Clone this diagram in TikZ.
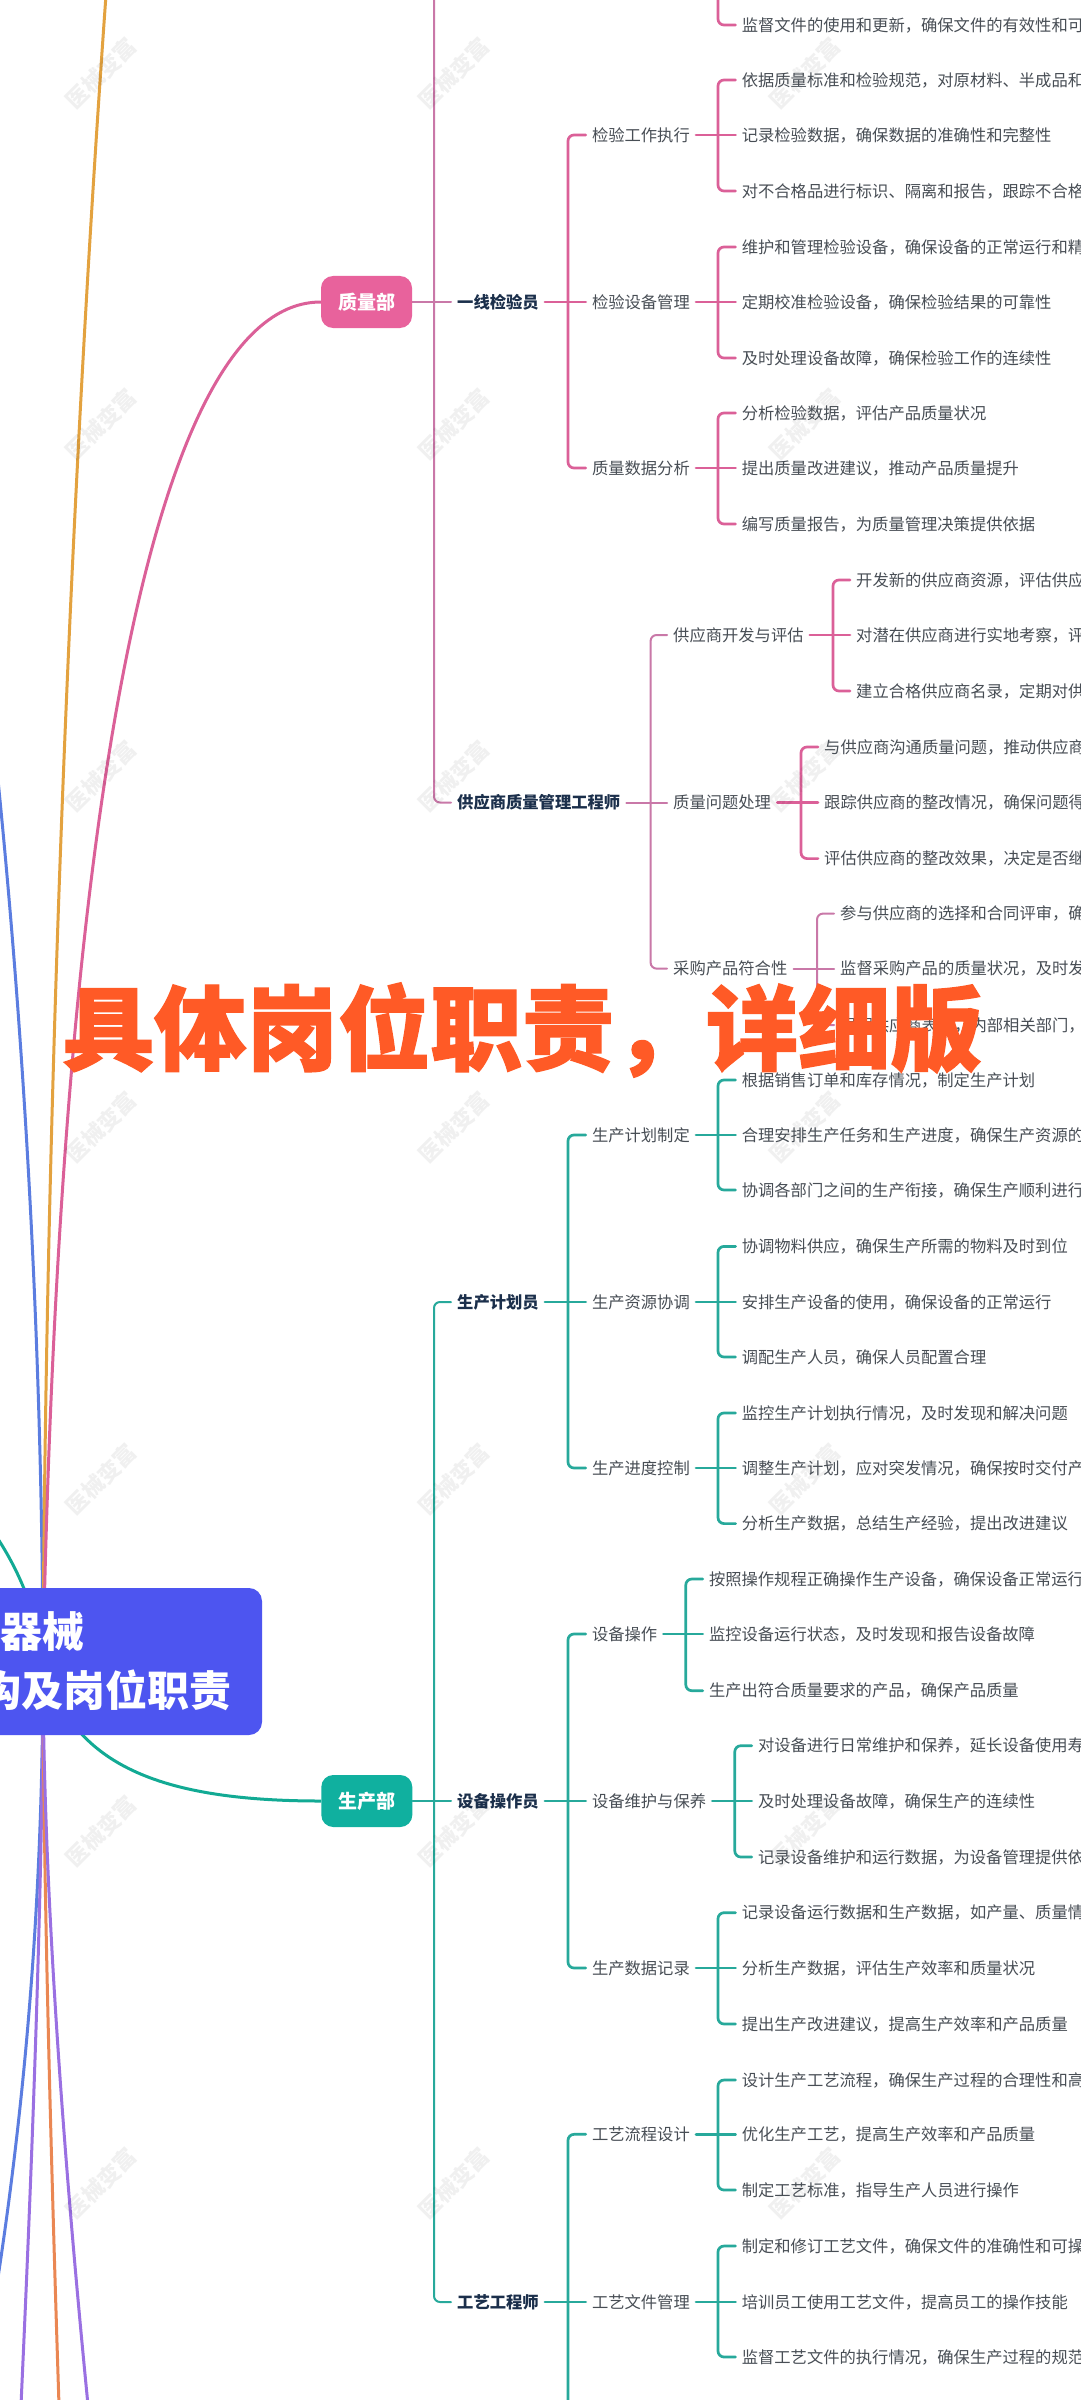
\documentclass[tikz,border=0pt]{standalone}
\usepackage{fontspec}
\usetikzlibrary{backgrounds}
\setmainfont{Noto Sans CJK SC}
\newfontfamily\ovlfont{Noto Sans CJK SC}[BoldFeatures={FakeBold=1.5}]
\definecolor{cPink}{HTML}{DB6098}
\definecolor{cPinkL}{HTML}{C978A8}
\definecolor{cTeal}{HTML}{27A99B}
\definecolor{cBoxPink}{HTML}{E8629C}
\definecolor{cBoxTeal}{HTML}{10B09F}
\definecolor{cBlueBox}{HTML}{4D55F0}
\definecolor{cOrangeA}{HTML}{E3A23F}
\definecolor{cOrangeB}{HTML}{EA8753}
\definecolor{cBlueL}{HTML}{5B7DE0}
\definecolor{cPurple}{HTML}{9A70E2}
\definecolor{cCurveTeal}{HTML}{12AA94}
\definecolor{cLeaf}{HTML}{484E55}
\definecolor{cRole}{HTML}{1B2F4B}
\definecolor{cOvl}{HTML}{FF5A26}
\newcommand\brk[6]{\draw[#1] (#2.west) -| (#6,0 |- #4.west) -- (#4.west); \draw[#1] (#5.east) -- (#3.west);}
\tikzset{
  leaf/.style={anchor=west,inner xsep=6pt,inner ysep=0pt,text height=14pt,text depth=1.6pt,text=cLeaf,font=\fontsize{16.3}{18}\selectfont},
  sub/.style={leaf},
  role/.style={leaf,text=cRole,font=\fontsize{16.3}{18}\selectfont\bfseries},
  dept/.style={rounded corners=12pt,inner sep=0pt,minimum width=91pt,minimum height=52pt,text=white,font=\fontsize{19}{22}\selectfont\bfseries},
  pinkln/.style={draw=cPink,line width=2.7pt,rounded corners=6pt,line cap=round},
  pinkmain/.style={draw=cPinkL,line width=2pt,rounded corners=6pt,line cap=round},
  tealln/.style={draw=cTeal,line width=2.7pt,rounded corners=6pt,line cap=round},
  tealmain/.style={draw=cTeal,line width=2pt,rounded corners=6pt,line cap=round},
  curve/.style={line width=3pt},
  wm/.style={rotate=45,text=black,text opacity=0.06,font=\fontsize{22}{24}\selectfont\bfseries},
}
\begin{document}
\begin{tikzpicture}[x=1pt,y=-1pt]
\useasboundingbox (0,0) rectangle (1080,2400);
% watermarks
\foreach \wy in {73,424,776,1127,1479,1831,2183}{
  \foreach \wx in {101,454,805}{
    \node[wm] at (\wx,\wy) {医械变富};
  }
}
% centre and departments
\node[fill=cBlueBox,rounded corners=13pt,minimum width=438pt,minimum height=147pt,inner sep=0pt,align=center,text=white,font=\fontsize{42}{59}\selectfont\bfseries] (cen) at (43,1661.5) {器械\\组织架构及岗位职责};
\node[dept,fill=cBoxPink] (dq) at (366.5,302) {质量部};
\node[dept,fill=cBoxTeal] (dp) at (366.8,1801) {生产部};
% roles
\node[role] (r1) at (451,302) {一线检验员};
\node[role] (r2) at (451,802.5) {供应商质量管理工程师};
\node[role] (r3) at (451,1302) {生产计划员};
\node[role] (r4) at (451,1801) {设备操作员};
\node[role] (r5) at (451,2302) {工艺工程师};
% sub items
\node[sub] (q1) at (585.8,135) {检验工作执行};
\node[sub] (q2) at (585.8,302) {检验设备管理};
\node[sub] (q3) at (585.8,468) {质量数据分析};
\node[sub] (s1) at (667,635) {供应商开发与评估};
\node[sub] (s2) at (667,802.5) {质量问题处理};
\node[sub] (s3) at (667,968.6) {采购产品符合性};
\node[sub] (p1) at (585.8,1135) {生产计划制定};
\node[sub] (p2) at (585.8,1302) {生产资源协调};
\node[sub] (p3) at (585.8,1468) {生产进度控制};
\node[sub] (e1) at (585.8,1634) {设备操作};
\node[sub] (e2) at (585.8,1801) {设备维护与保养};
\node[sub] (e3) at (585.8,1968) {生产数据记录};
\node[sub] (g1) at (585.8,2134.3) {工艺流程设计};
\node[sub] (g2) at (585.8,2302) {工艺文件管理};
% leaves
\node[leaf] (q0c) at (735.6,25) {监督文件的使用和更新，确保文件的有效性和可};
\node[leaf] (q1a) at (735.6,80) {依据质量标准和检验规范，对原材料、半成品和};
\node[leaf] (q1b) at (735.6,135) {记录检验数据，确保数据的准确性和完整性};
\node[leaf] (q1c) at (735.6,191) {对不合格品进行标识、隔离和报告，跟踪不合格};
\node[leaf] (q2a) at (735.6,247) {维护和管理检验设备，确保设备的正常运行和精};
\node[leaf] (q2b) at (735.6,302) {定期校准检验设备，确保检验结果的可靠性};
\node[leaf] (q2c) at (735.6,358) {及时处理设备故障，确保检验工作的连续性};
\node[leaf] (q3a) at (735.6,413) {分析检验数据，评估产品质量状况};
\node[leaf] (q3b) at (735.6,468) {提出质量改进建议，推动产品质量提升};
\node[leaf] (q3c) at (735.6,524) {编写质量报告，为质量管理决策提供依据};
\node[leaf] (s1a) at (850,580) {开发新的供应商资源，评估供应};
\node[leaf] (s1b) at (850,635) {对潜在供应商进行实地考察，评};
\node[leaf] (s1c) at (850,691) {建立合格供应商名录，定期对供};
\node[leaf] (s2a) at (818,747) {与供应商沟通质量问题，推动供应商};
\node[leaf] (s2b) at (818,802.5) {跟踪供应商的整改情况，确保问题得};
\node[leaf] (s2c) at (818,858.6) {评估供应商的整改效果，决定是否继};
\node[leaf] (s3a) at (834,913.6) {参与供应商的选择和合同评审，确};
\node[leaf] (s3b) at (834,968.6) {监督采购产品的质量状况，及时发};
\node[leaf] (s3c) at (834,1025) {根据供应商表现，内部相关部门，};
\node[leaf] (p1a) at (735.6,1080) {根据销售订单和库存情况，制定生产计划};
\node[leaf] (p1b) at (735.6,1135) {合理安排生产任务和生产进度，确保生产资源的};
\node[leaf] (p1c) at (735.6,1190) {协调各部门之间的生产衔接，确保生产顺利进行};
\node[leaf] (p2a) at (735.6,1246.4) {协调物料供应，确保生产所需的物料及时到位};
\node[leaf] (p2b) at (735.6,1302) {安排生产设备的使用，确保设备的正常运行};
\node[leaf] (p2c) at (735.6,1357) {调配生产人员，确保人员配置合理};
\node[leaf] (p3a) at (735.6,1413) {监控生产计划执行情况，及时发现和解决问题};
\node[leaf] (p3b) at (735.6,1468) {调整生产计划，应对突发情况，确保按时交付产};
\node[leaf] (p3c) at (735.6,1523.6) {分析生产数据，总结生产经验，提出改进建议};
\node[leaf] (e1a) at (702.8,1579) {按照操作规程正确操作生产设备，确保设备正常运行};
\node[leaf] (e1b) at (702.8,1634) {监控设备运行状态，及时发现和报告设备故障};
\node[leaf] (e1c) at (702.8,1690.7) {生产出符合质量要求的产品，确保产品质量};
\node[leaf] (e2a) at (751.8,1745.7) {对设备进行日常维护和保养，延长设备使用寿};
\node[leaf] (e2b) at (751.8,1801) {及时处理设备故障，确保生产的连续性};
\node[leaf] (e2c) at (751.8,1857) {记录设备维护和运行数据，为设备管理提供依};
\node[leaf] (e3a) at (735.6,1912.7) {记录设备运行数据和生产数据，如产量、质量情};
\node[leaf] (e3b) at (735.6,1968) {分析生产数据，评估生产效率和质量状况};
\node[leaf] (e3c) at (735.6,2024) {提出生产改进建议，提高生产效率和产品质量};
\node[leaf] (g1a) at (735.6,2080) {设计生产工艺流程，确保生产过程的合理性和高};
\node[leaf] (g1b) at (735.6,2134.3) {优化生产工艺，提高生产效率和产品质量};
\node[leaf] (g1c) at (735.6,2190) {制定工艺标准，指导生产人员进行操作};
\node[leaf] (g2a) at (735.6,2246) {制定和修订工艺文件，确保文件的准确性和可操};
\node[leaf] (g2b) at (735.6,2302) {培训员工使用工艺文件，提高员工的操作技能};
\node[leaf] (g2c) at (735.6,2357) {监督工艺文件的执行情况，确保生产过程的规范};
% free ends
\coordinate (topA) at (718,-8);
\coordinate (topB) at (434,-8);
\coordinate (botG) at (568,2410);
\coordinate (offOrange) at (106,-5);
\coordinate (offBlue) at (-2,780);
\coordinate (offTeal) at (-40,1490);
\coordinate (offBlueD) at (-12,2340);
\coordinate (offPurA) at (21,2405);
\coordinate (offOraD) at (59,2405);
\coordinate (offPurB) at (88,2405);
\begin{scope}[on background layer]
  \fill[white] (0,0) rectangle (1080,2400);
  % main curves
  \draw[curve,cBlueL] (cen.center) .. controls (42,1350) and (25,1050) .. (offBlue);
  \draw[curve,cOrangeA] (cen.center) .. controls (46,1100) and (70,500) .. (offOrange);
  \draw[curve,cPink] (cen.center) .. controls (60,800) and (155,302) .. (dq.west);
  \draw[curve,cCurveTeal] (cen.center) .. controls (35,1600) and (10,1545) .. (offTeal);
  \draw[curve,cCurveTeal] (cen.center) .. controls (70,1760) and (150,1801) .. (dp.west);
  \draw[curve,cBlueL] (cen.center) .. controls (43,1900) and (25,2120) .. (offBlueD);
  \draw[curve,cPurple] (cen.center) .. controls (43,1850) and (35,2100) .. (offPurA);
  \draw[curve,cOrangeB] (cen.center) .. controls (43,1850) and (50,2130) .. (offOraD);
  \draw[curve,cPurple] (cen.center) .. controls (43,1850) and (58,2100) .. (offPurB);
  % quality department
  \draw[pinkmain] (topB) |- (r2.west);
  \draw[pinkmain] (dq.east) -- (r1.west);
  \draw[pinkln] (topA) |- (q0c.west);
  \brk{pinkln}{q1}{q2}{q3}{r1}{568}
  \brk{pinkln}{q1a}{q1b}{q1c}{q1}{718}
  \brk{pinkln}{q2a}{q2b}{q2c}{q2}{718}
  \brk{pinkln}{q3a}{q3b}{q3c}{q3}{718}
  \brk{pinkmain}{s1}{s2}{s3}{r2}{650.6}
  \brk{pinkln}{s1a}{s1b}{s1c}{s1}{833}
  \brk{pinkln}{s2a}{s2b}{s2c}{s2}{801}
  \brk{pinkmain}{s3a}{s3b}{s3c}{s3}{817}
  % production department
  \brk{tealmain}{r3}{r4}{r5}{dp}{434}
  \brk{tealln}{p1}{p2}{p3}{r3}{568}
  \brk{tealln}{p1a}{p1b}{p1c}{p1}{718}
  \brk{tealln}{p2a}{p2b}{p2c}{p2}{718}
  \brk{tealln}{p3a}{p3b}{p3c}{p3}{718}
  \brk{tealln}{e1}{e2}{e3}{r4}{568}
  \brk{tealln}{e1a}{e1b}{e1c}{e1}{685.8}
  \brk{tealln}{e2a}{e2b}{e2c}{e2}{734.8}
  \brk{tealln}{e3a}{e3b}{e3c}{e3}{718}
  \draw[tealln] (g1.west) -| (botG);
  \draw[tealln] (r5.east) -- (g2.west);
  \brk{tealln}{g1a}{g1b}{g1c}{g1}{718}
  \brk{tealln}{g2a}{g2b}{g2c}{g2}{718}
\end{scope}
% overlay title
\node[anchor=west,inner sep=0pt,text=cOvl,font=\ovlfont\fontsize{92}{100}\selectfont\bfseries] (ovl) at (62,1030) {具体岗位职责，详细版};
\end{tikzpicture}
\end{document}
